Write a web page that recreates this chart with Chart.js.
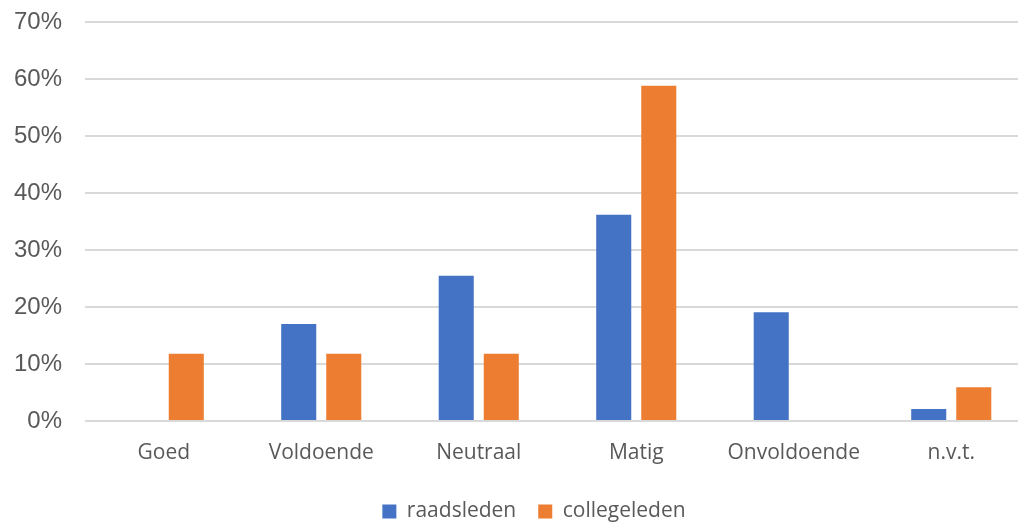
<!DOCTYPE html>
<html>
<head>
<meta charset="utf-8">
<script src="https://cdn.jsdelivr.net/npm/chart.js@4/dist/chart.umd.min.js"></script>
<style>
html,body{margin:0;padding:0;background:#fff;overflow:hidden;width:1018px;height:522px;}
#wrap{width:1030px;height:522px;}
</style>
</head>
<body>
<div id="wrap"><canvas id="c" width="1030" height="522"></canvas></div>
<script>
const categories = ["Goed", "Voldoende", "Neutraal", "Matig", "Onvoldoende", "n.v.t."];
const raadsleden = [0, 17.0, 25.5, 36.2, 19.1, 2.1];
const collegeleden = [11.8, 11.8, 11.8, 58.8, 0, 5.9];
const seriesNames = ["raadsleden", "collegeleden"];
const yTicks = [0, 10, 20, 30, 40, 50, 60, 70];

const shiftLegend = {
  id: 'shiftLegend',
  afterLayout(chart) {
    const l = chart.legend;
    if (l) { l.left += 19; l.right += 19; l.top += 10; l.bottom += 10; }
  }
};

new Chart(document.getElementById('c'), {
  type: 'bar',
  data: {
    labels: categories,
    datasets: [
      { label: seriesNames[0], data: raadsleden, backgroundColor: '#4472C4', borderWidth: 0 },
      { label: seriesNames[1], data: collegeleden, backgroundColor: '#ED7D31', borderWidth: 0 }
    ]
  },
  options: {
    responsive: false,
    animation: false,
    devicePixelRatio: 1,
    categoryPercentage: 0.572,
    barPercentage: 0.778,
    layout: { padding: { top: 22, left: 0, right: 0, bottom: 0 } },
    plugins: {
      legend: {
        position: 'bottom',
        labels: {
          boxWidth: 14, boxHeight: 14, padding: 22,
          color: '#595959',
          font: { family: '"Open Sans"', size: 21 }
        }
      },
      tooltip: { enabled: false }
    },
    scales: {
      x: {
        grid: { display: false },
        border: { display: false },
        ticks: { color: '#595959', font: { family: '"Open Sans"', size: 21 }, padding: 11 },
        afterFit(s) { s.height = 48; }
      },
      y: {
        min: 0, max: 70,
        afterBuildTicks(s) { s.ticks = yTicks.map(v => ({ value: v })); },
        grid: { color: '#d9d9d9', lineWidth: 2, drawTicks: false },
        border: { display: false },
        ticks: {
          color: '#595959',
          font: { family: '"Liberation Sans"', size: 24 },
          padding: 23,
          callback: v => v + '%'
        },
        afterFit(s) { s.width = 85; s.paddingTop = 0; s.paddingBottom = 0; }
      }
    }
  },
  plugins: [shiftLegend]
});
</script>
</body>
</html>
